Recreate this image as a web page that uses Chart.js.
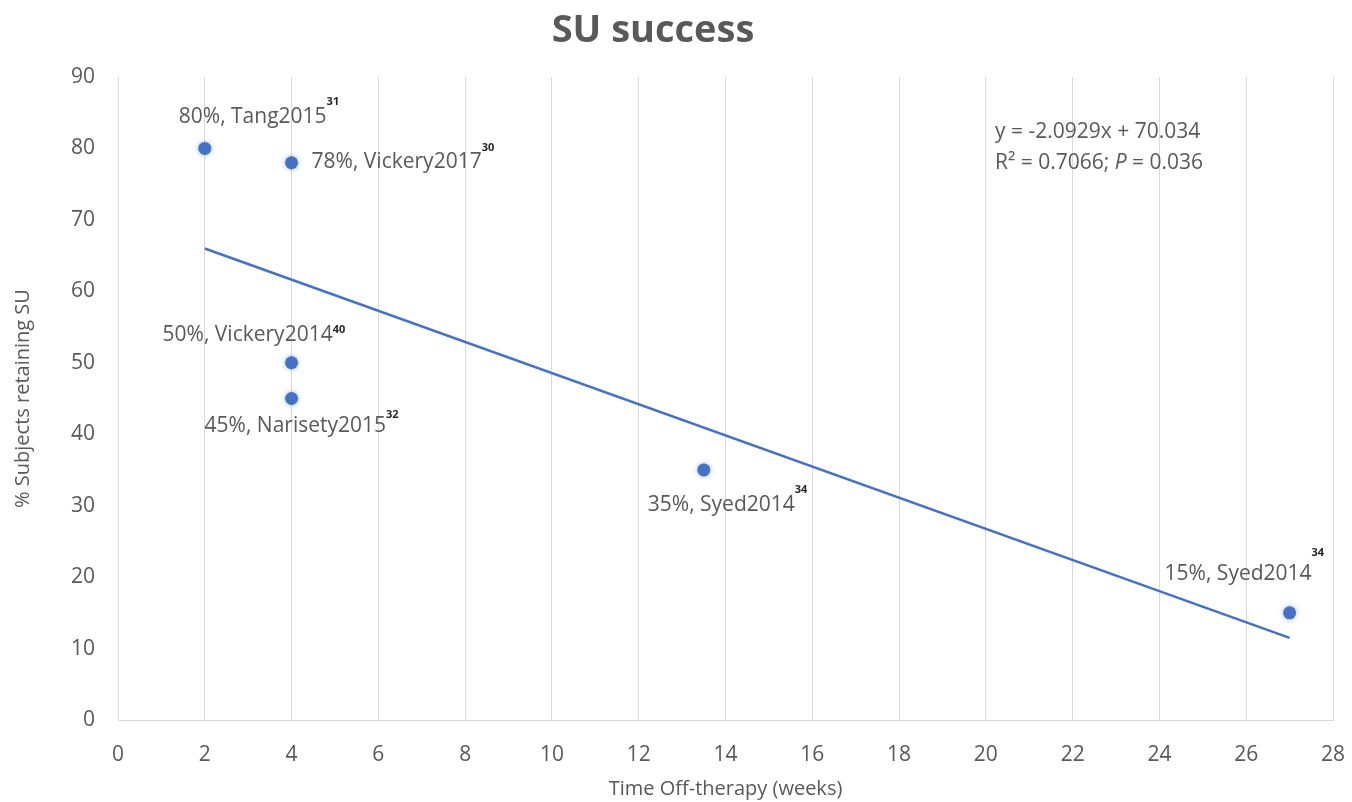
<!DOCTYPE html>
<html>
<head>
<meta charset="utf-8">
<script src="https://cdn.jsdelivr.net/npm/chart.js@4"></script>
<style>
  html, body { margin: 0; padding: 0; background: #fff; }
  #wrap { width: 1352px; height: 802px; }
</style>
</head>
<body>
<div id="wrap"><canvas id="suChart" width="1352" height="802"></canvas></div>
<script>
// data
const weeksOff = [2, 4, 4, 4, 13.5, 27];
const pctRetaining = [80, 78, 50, 45, 35, 15];
const studyLabels = ['80%, Tang2015', '78%, Vickery2017', '50%, Vickery2014', '45%, Narisety2015', '35%, Syed2014', '15%, Syed2014'];
const refNumbers = ['31', '30', '40', '32', '34', '34'];
const trendWeeks = [2, 27];
const trendPct = [66, 11.5];
const chartTitle = 'SU success';
const eqLines = ['y = -2.0929x + 70.034', 'R\u00B2 = 0.7066; ', 'P', ' = 0.036'];

// label placement (pixels from the point) and superscript lift
const labelOffsets = [[-26, -31], [20, -1], [-129, -28], [-87, 28], [-56, 35], [-125, -39]];
const supLift = [16, 14, 5, 12, 15, 21];

const FONT = '"Open Sans", Lato, sans-serif';
const GREY = '#595959';
const BLUE = '#4472C4';

const labelPlugin = {
  id: 'studyLabels',
  afterDatasetsDraw(chart) {
    const ctx = chart.ctx;
    const xs = chart.scales.x, ys = chart.scales.y;
    ctx.save();
    ctx.textBaseline = 'middle';

    // title sits a little left of centre in the original
    ctx.textAlign = 'center';
    ctx.font = 'bold 38px ' + FONT;
    ctx.fillStyle = GREY;
    ctx.fillText(chartTitle, 653, 31);

    ctx.textAlign = 'left';
    weeksOff.forEach((wk, i) => {
      const px = xs.getPixelForValue(wk) + labelOffsets[i][0];
      const py = ys.getPixelForValue(pctRetaining[i]) + labelOffsets[i][1];
      ctx.font = '21px ' + FONT;
      ctx.fillStyle = GREY;
      ctx.fillText(studyLabels[i], px, py);
      const w = ctx.measureText(studyLabels[i]).width;
      ctx.font = 'bold 11px ' + FONT;
      ctx.fillStyle = '#262626';
      ctx.fillText(refNumbers[i], px + w, py - supLift[i]);
    });

    // trendline equation
    const ca = chart.chartArea;
    const ex = ca.left + 877, ey = ca.top + 55;
    ctx.font = '21px ' + FONT;
    ctx.fillStyle = GREY;
    ctx.fillText(eqLines[0], ex, ey);
    let cx = ex;
    ctx.fillText(eqLines[1], cx, ey + 31);
    cx += ctx.measureText(eqLines[1]).width;
    ctx.font = 'italic 21px ' + FONT;
    ctx.fillText(eqLines[2], cx, ey + 31);
    cx += ctx.measureText(eqLines[2]).width;
    ctx.font = '21px ' + FONT;
    ctx.fillText(eqLines[3], cx, ey + 31);
    ctx.restore();
  }
};

// soft glow round the markers, like the original
const glowPlugin = {
  id: 'markerGlow',
  beforeDatasetDraw(chart, args) {
    if (args.index === 1) {
      chart.ctx.save();
      chart.ctx.shadowColor = 'rgba(68,114,196,0.55)';
      chart.ctx.shadowBlur = 5;
    }
  },
  afterDatasetDraw(chart, args) {
    if (args.index === 1) chart.ctx.restore();
  }
};

new Chart(document.getElementById('suChart').getContext('2d'), {
  type: 'scatter',
  data: {
    datasets: [
      {
        label: 'Trend',
        type: 'line',
        data: trendWeeks.map((x, i) => ({ x: x, y: trendPct[i] })),
        borderColor: BLUE,
        borderWidth: 2.5,
        pointRadius: 0,
        fill: false
      },
      {
        label: 'Studies',
        data: weeksOff.map((x, i) => ({ x: x, y: pctRetaining[i] })),
        backgroundColor: BLUE,
        borderColor: BLUE,
        pointRadius: 6.5,
        borderWidth: 0
      }
    ]
  },
  options: {
    responsive: false,
    animation: false,
    layout: { padding: { left: 0, right: 19, top: 77, bottom: 0 } },
    plugins: {
      legend: { display: false },
      tooltip: { enabled: false },
      title: { display: false }
    },
    scales: {
      x: {
        type: 'linear',
        min: 0,
        max: 28,
        ticks: { stepSize: 2, color: GREY, font: { family: FONT, size: 21 }, padding: 22 },
        grid: { color: '#d9d9d9', drawTicks: false },
        border: { display: true, color: '#d9d9d9' },
        title: {
          display: true,
          text: 'Time Off-therapy (weeks)',
          color: GREY,
          font: { family: FONT, size: 20 },
          padding: { top: 0, bottom: 1 }
        },
        afterFit(scale) {
          scale.height = 82;
          scale.paddingLeft = 0;
          scale.paddingRight = 0;
        }
      },
      y: {
        min: 0,
        max: 90,
        ticks: { stepSize: 10, color: GREY, font: { family: FONT, size: 21 }, padding: 23 },
        grid: { display: false, drawTicks: false },
        border: { display: false },
        title: {
          display: true,
          text: '% Subjects retaining SU',
          color: GREY,
          font: { family: FONT, size: 20 },
          padding: { top: 11, bottom: 0 }
        },
        afterFit(scale) {
          scale.width = 118;
          scale.paddingTop = 0;
          scale.paddingBottom = 0;
        }
      }
    }
  },
  plugins: [labelPlugin, glowPlugin]
});
</script>
</body>
</html>
